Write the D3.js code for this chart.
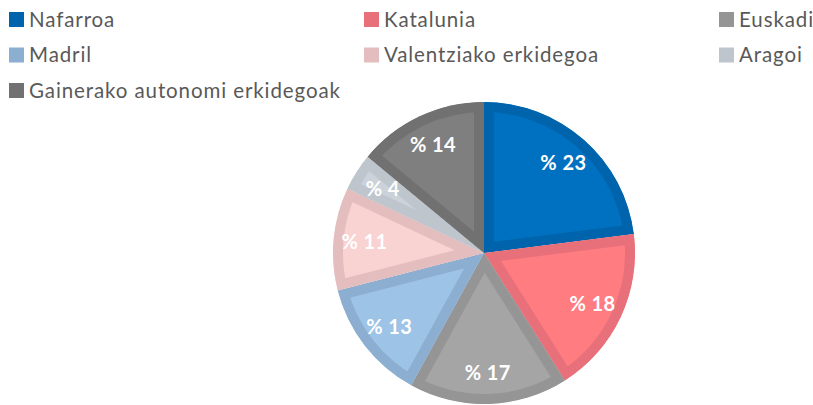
<!DOCTYPE html>
<html>
<head>
<meta charset="utf-8">
<script src="https://cdn.jsdelivr.net/npm/d3@7"></script>
<style>
  body { margin: 0; background: #fff; }
  svg { display: block; }
</style>
</head>
<body>
<div id="chart"></div>
<script>
'use strict';

// data (percent shares)
var regions = ['Nafarroa', 'Katalunia', 'Euskadi', 'Madril', 'Valentziako erkidegoa', 'Aragoi', 'Gainerako autonomi erkidegoak'];
var shares = [23, 18, 17, 13, 11, 4, 14];
var labels = ['% 23', '% 18', '% 17', '% 13', '% 11', '% 4', '% 14'];

var fills = ['#0070C0', '#FF7C80', '#A5A5A5', '#9DC3E6', '#F9D2D2', '#CCD2D9', '#7F7F7F'];
var borders = ['#0064AC', '#E8707A', '#959595', '#8BAED1', '#E4BEBF', '#BEC5CD', '#717171'];

var width = 813, height = 405;
var cx = 484, cy = 253, radius = 151, borderW = 10;

var svg = d3.select('#chart').append('svg')
  .attr('width', width)
  .attr('height', height);

// legend, 3 columns
var legendCols = [9, 364, 719];
var legend = svg.selectAll('.legend')
  .data(regions)
  .enter()
  .append('g')
  .attr('class', 'legend')
  .attr('transform', function(d, i) {
    return 'translate(' + legendCols[i % 3] + ',' + (12 + Math.floor(i / 3) * 35.5) + ')';
  });

legend.append('rect')
  .attr('width', 15)
  .attr('height', 15)
  .style('fill', function(d, i) { return borders[i]; });

legend.append('text')
  .attr('x', 20)
  .attr('y', 7.5)
  .attr('dy', '0.36em')
  .style('font-family', 'Lato, "Open Sans", sans-serif')
  .style('font-size', '20.5px')
  .style('letter-spacing', '0.9px')
  .style('fill', '#595959')
  .text(function(d) { return d; });

// pie
var pie = d3.pie().sort(null).value(function(d) { return d; });
var arc = d3.arc().innerRadius(0).outerRadius(radius);
var labelArc = d3.arc().innerRadius(120).outerRadius(120);

var arcs = pie(shares);
var chart = svg.append('g')
  .attr('class', 'pie')
  .attr('transform', 'translate(' + cx + ',' + cy + ')');

var defs = svg.append('defs');
defs.selectAll('clipPath')
  .data(arcs)
  .enter()
  .append('clipPath')
  .attr('id', function(d, i) { return 'slice' + i; })
  .append('path')
  .attr('d', arc);

var slices = chart.selectAll('.slice')
  .data(arcs)
  .enter()
  .append('g')
  .attr('class', 'slice');

slices.append('path')
  .attr('d', arc)
  .style('fill', function(d, i) { return fills[i]; })
  .style('stroke', function(d, i) { return borders[i]; })
  .style('stroke-width', borderW * 2)
  .style('stroke-linejoin', 'miter')
  .attr('clip-path', function(d, i) { return 'url(#slice' + i + ')'; });

chart.selectAll('.label')
  .data(arcs)
  .enter()
  .append('text')
  .attr('class', 'label')
  .attr('transform', function(d) { return 'translate(' + labelArc.centroid(d) + ')'; })
  .attr('text-anchor', 'middle')
  .attr('dy', '0.36em')
  .style('font-family', 'Lato, "Open Sans", sans-serif')
  .style('font-weight', 'bold')
  .style('font-size', '20px')
  .style('letter-spacing', '0.4px')
  .style('fill', '#fff')
  .text(function(d, i) { return labels[i]; });
</script>
</body>
</html>
